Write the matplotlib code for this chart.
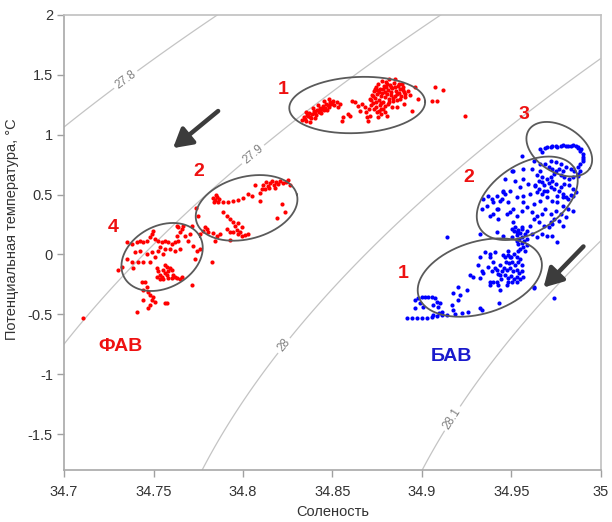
#!/usr/bin/env python
"""
T-S diagram: FAW (red) and BAW (blue) clusters over sigma-theta isopycnals
"""
import numpy as np
import matplotlib
matplotlib.use('Agg')
import matplotlib.pyplot as plt
from matplotlib.ticker import FuncFormatter

plt.rcParams['font.family'] = ['Liberation Sans', 'DejaVu Sans']

# --- data (salinity, potential temperature) ---
fav_cluster_1 = [
    (34.8330, 1.122), (34.8341, 1.147), (34.8352, 1.114), (34.8363, 1.156), (34.8369, 1.181),
    (34.8380, 1.139), (34.8386, 1.173), (34.8397, 1.198), (34.8408, 1.164), (34.8414, 1.206),
    (34.8425, 1.189), (34.8430, 1.223), (34.8442, 1.214), (34.8447, 1.240), (34.8458, 1.223),
    (34.8464, 1.256), (34.8475, 1.248), (34.8486, 1.273), (34.8492, 1.256), (34.8503, 1.281),
    (34.8352, 1.189), (34.8391, 1.223), (34.8419, 1.248), (34.8375, 1.106), (34.8403, 1.139),
    (34.8436, 1.181), (34.8469, 1.206), (34.8453, 1.281), (34.8481, 1.298), (34.8509, 1.248),
    (34.8344, 1.131), (34.8358, 1.164), (34.8372, 1.147), (34.8400, 1.181), (34.8428, 1.198),
    (34.8450, 1.206), (34.8478, 1.231), (34.8497, 1.265),
    (34.8525, 1.273), (34.8542, 1.256), (34.8531, 1.231), (34.8559, 1.147), (34.8553, 1.114),
    (34.8587, 1.173), (34.8598, 1.156), (34.8609, 1.281), (34.8626, 1.273), (34.8643, 1.240),
    (34.8654, 1.198), (34.8665, 1.256), (34.8682, 1.231), (34.8693, 1.147), (34.8710, 1.156),
    (34.8699, 1.114),
    (34.8710, 1.298), (34.8721, 1.332), (34.8733, 1.365), (34.8744, 1.399), (34.8755, 1.424),
    (34.8766, 1.382), (34.8777, 1.348), (34.8788, 1.407), (34.8800, 1.441), (34.8811, 1.374),
    (34.8822, 1.415), (34.8833, 1.390), (34.8844, 1.432), (34.8856, 1.365), (34.8867, 1.407),
    (34.8878, 1.382), (34.8889, 1.424), (34.8900, 1.357), (34.8727, 1.265), (34.8738, 1.307),
    (34.8750, 1.340), (34.8761, 1.290), (34.8772, 1.323), (34.8783, 1.273), (34.8794, 1.315),
    (34.8805, 1.340), (34.8817, 1.298), (34.8828, 1.332), (34.8839, 1.281), (34.8850, 1.323),
    (34.8861, 1.340), (34.8716, 1.248), (34.8733, 1.214), (34.8744, 1.231), (34.8761, 1.198),
    (34.8772, 1.173), (34.8783, 1.214), (34.8794, 1.189), (34.8805, 1.156), (34.8755, 1.147),
    (34.8766, 1.248), (34.8811, 1.256), (34.8833, 1.231), (34.8861, 1.231), (34.8878, 1.298),
    (34.8906, 1.315), (34.8923, 1.365), (34.8934, 1.332), (34.8945, 1.198), (34.8962, 1.399),
    (34.8979, 1.298), (34.8900, 1.256), (34.8777, 1.449), (34.8817, 1.466), (34.8850, 1.466),
    (34.8794, 1.357), (34.8750, 1.374), (34.8828, 1.357), (34.8872, 1.348), (34.8895, 1.399),
    (34.8800, 1.399), (34.8704, 1.214), (34.8688, 1.189),
    (34.8738, 1.382), (34.8760, 1.357), (34.8783, 1.382), (34.8805, 1.424), (34.8828, 1.399),
    (34.8850, 1.399), (34.8872, 1.424), (34.8895, 1.374), (34.8772, 1.265), (34.8794, 1.240),
    (34.8816, 1.273), (34.8838, 1.307), (34.8860, 1.290), (34.8883, 1.323), (34.8906, 1.340),
    (34.8750, 1.189), (34.8772, 1.214), (34.8744, 1.273), (34.8727, 1.323), (34.8716, 1.290),
    (34.9074, 1.399), (34.9119, 1.374), (34.9057, 1.281), (34.9085, 1.281), (34.9242, 1.156),
]

fav_cluster_2 = [
    (34.7833, 0.469), (34.7844, 0.452), (34.7855, 0.477), (34.7866, 0.461), (34.7838, 0.436),
    (34.7861, 0.436), (34.7850, 0.494), (34.7889, 0.436), (34.7917, 0.436), (34.7945, 0.444),
    (34.7973, 0.452), (34.8001, 0.469), (34.8029, 0.503), (34.8051, 0.486), (34.8068, 0.578),
    (34.8096, 0.511), (34.8107, 0.544), (34.8096, 0.444), (34.8112, 0.578), (34.8129, 0.603),
    (34.8140, 0.570), (34.8152, 0.595), (34.8163, 0.611), (34.8174, 0.578), (34.8185, 0.603),
    (34.8196, 0.586), (34.8207, 0.611), (34.8146, 0.553), (34.8179, 0.553), (34.8224, 0.595),
    (34.8241, 0.603), (34.8263, 0.578), (34.8124, 0.544), (34.8252, 0.620), (34.8219, 0.419),
    (34.8235, 0.352), (34.8191, 0.302), (34.7889, 0.352), (34.7911, 0.318), (34.7928, 0.293),
    (34.7945, 0.268), (34.7956, 0.235), (34.7973, 0.260), (34.7995, 0.226), (34.7967, 0.201),
    (34.7911, 0.209), (34.7928, 0.184), (34.7945, 0.184), (34.7973, 0.168), (34.7995, 0.151),
    (34.8012, 0.159), (34.8029, 0.168), (34.7984, 0.184), (34.7872, 0.168), (34.7855, 0.151),
    (34.7833, 0.176), (34.7805, 0.184), (34.7777, 0.193), (34.7844, 0.109), (34.7928, 0.117),
    (34.7738, 0.385), (34.7749, 0.318), (34.7788, 0.226), (34.7760, 0.168), (34.7799, 0.209),
]

fav_cluster_4 = [
    (34.7352, 0.101), (34.7380, 0.084), (34.7408, 0.101), (34.7425, 0.109), (34.7442, 0.101),
    (34.7464, 0.109), (34.7481, 0.142), (34.7492, 0.168), (34.7498, 0.193), (34.7509, 0.126),
    (34.7525, 0.109), (34.7548, 0.101), (34.7565, 0.109), (34.7581, 0.101), (34.7604, 0.084),
    (34.7620, 0.101), (34.7637, 0.109), (34.7632, 0.151), (34.7648, 0.184), (34.7660, 0.209),
    (34.7637, 0.226), (34.7676, 0.151), (34.7693, 0.109), (34.7704, 0.168), (34.7721, 0.067),
    (34.7743, 0.025), (34.7760, 0.042), (34.7632, 0.235), (34.7665, 0.235), (34.7716, 0.235),
    (34.7593, 0.042), (34.7620, 0.025), (34.7648, 0.042), (34.7537, 0.059), (34.7565, 0.042),
    (34.7397, 0.017), (34.7425, 0.025), (34.7464, 0.000), (34.7492, 0.017), (34.7509, -0.017),
    (34.7525, 0.025), (34.7553, 0.000), (34.7442, -0.059), (34.7414, -0.067), (34.7380, -0.059),
    (34.7352, -0.042), (34.7324, -0.101), (34.7302, -0.126), (34.7386, -0.109), (34.7481, -0.067),
    (34.7520, -0.109), (34.7525, -0.142), (34.7537, -0.168), (34.7548, -0.184), (34.7553, -0.126),
    (34.7565, -0.151), (34.7576, -0.168), (34.7581, -0.142), (34.7593, -0.109), (34.7604, -0.126),
    (34.7609, -0.168), (34.7620, -0.184), (34.7632, -0.193), (34.7648, -0.209), (34.7660, -0.184),
    (34.7576, -0.101), (34.7565, -0.084), (34.7520, -0.184), (34.7537, -0.209), (34.7553, -0.209),
    (34.7581, -0.193), (34.7604, -0.193), (34.7732, -0.042), (34.7827, -0.059), (34.7716, -0.251),
    (34.7436, -0.226), (34.7453, -0.234), (34.7464, -0.268), (34.7442, -0.293), (34.7470, -0.310),
    (34.7481, -0.335), (34.7498, -0.352), (34.7492, -0.377), (34.7509, -0.394), (34.7481, -0.419),
    (34.7442, -0.377), (34.7576, -0.402), (34.7408, -0.477), (34.7470, -0.444), (34.7106, -0.528),
    (34.7565, -0.402),
]

bav_upper = [
    (34.9662, 0.879), (34.9690, 0.888), (34.9718, 0.896), (34.9746, 0.905), (34.9774, 0.905),
    (34.9802, 0.905), (34.9830, 0.905), (34.9858, 0.905), (34.9874, 0.896), (34.9885, 0.863),
    (34.9897, 0.838), (34.9902, 0.812), (34.9902, 0.779), (34.9885, 0.754), (34.9874, 0.729),
    (34.9885, 0.695), (34.9874, 0.670), (34.9869, 0.653), (34.9673, 0.854), (34.9701, 0.896),
    (34.9729, 0.905), (34.9757, 0.896), (34.9785, 0.913), (34.9813, 0.905), (34.9841, 0.913),
    (34.9869, 0.888), (34.9891, 0.879), (34.9897, 0.796),
    (34.9841, 0.645), (34.9819, 0.628), (34.9796, 0.645), (34.9774, 0.662), (34.9751, 0.695),
    (34.9729, 0.712), (34.9707, 0.729), (34.9690, 0.754), (34.9718, 0.779), (34.9746, 0.771),
    (34.9774, 0.754), (34.9802, 0.729), (34.9830, 0.712), (34.9852, 0.695), (34.9785, 0.695),
    (34.9763, 0.712), (34.9740, 0.670), (34.9718, 0.645), (34.9696, 0.628), (34.9673, 0.645),
    (34.9651, 0.611), (34.9684, 0.578), (34.9707, 0.595), (34.9729, 0.611), (34.9751, 0.586),
    (34.9774, 0.561), (34.9796, 0.586), (34.9819, 0.578), (34.9841, 0.544), (34.9858, 0.519),
    (34.9830, 0.494), (34.9807, 0.477), (34.9785, 0.503), (34.9763, 0.528), (34.9740, 0.544),
    (34.9718, 0.561), (34.9696, 0.528), (34.9673, 0.503), (34.9651, 0.544), (34.9634, 0.578),
    (34.9662, 0.695), (34.9640, 0.662),
]

bav_middle = [
    (34.9561, 0.821), (34.9623, 0.779), (34.9662, 0.754), (34.9511, 0.695), (34.9567, 0.712),
    (34.9617, 0.712), (34.9466, 0.628), (34.9522, 0.611), (34.9567, 0.628), (34.9595, 0.586),
    (34.9634, 0.570), (34.9673, 0.603), (34.9550, 0.561), (34.9494, 0.528), (34.9455, 0.519),
    (34.9421, 0.486), (34.9393, 0.461), (34.9438, 0.444), (34.9483, 0.436), (34.9533, 0.477),
    (34.9567, 0.486), (34.9606, 0.503), (34.9645, 0.519), (34.9679, 0.528), (34.9662, 0.444),
    (34.9623, 0.419), (34.9589, 0.394), (34.9561, 0.360), (34.9511, 0.377), (34.9477, 0.335),
    (34.9427, 0.377), (34.9399, 0.335), (34.9701, 0.477), (34.9729, 0.444), (34.9757, 0.486),
    (34.9785, 0.477), (34.9813, 0.461), (34.9841, 0.486), (34.9757, 0.436), (34.9785, 0.402),
    (34.9813, 0.377), (34.9841, 0.360), (34.9746, 0.360), (34.9774, 0.335), (34.9802, 0.310),
    (34.9763, 0.276), (34.9735, 0.293), (34.9718, 0.335), (34.9690, 0.377), (34.9673, 0.335),
    (34.9645, 0.318), (34.9617, 0.352), (34.9623, 0.293), (34.9651, 0.268), (34.9679, 0.235),
    (34.9707, 0.226), (34.9729, 0.251), (34.9785, 0.235), (34.9606, 0.235), (34.9589, 0.193),
    (34.9561, 0.226), (34.9533, 0.184), (34.9505, 0.209), (34.9455, 0.151), (34.9421, 0.184),
    (34.9617, 0.168), (34.9645, 0.142), (34.9673, 0.168), (34.9701, 0.151), (34.9729, 0.151),
    (34.9343, 0.461), (34.9371, 0.486), (34.9399, 0.436), (34.9365, 0.402), (34.9421, 0.377),
    (34.9449, 0.461), (34.9466, 0.503), (34.9337, 0.377), (34.9494, 0.352), (34.9533, 0.318),
    (34.9511, 0.268), (34.9505, 0.695), (34.9455, 0.528), (34.9567, 0.436), (34.9382, 0.318),
    (34.9427, 0.293),
]

bav_lower = [
    (34.9522, 0.226), (34.9539, 0.201), (34.9550, 0.176), (34.9533, 0.159), (34.9561, 0.142),
    (34.9544, 0.126), (34.9572, 0.109), (34.9556, 0.092), (34.9584, 0.075), (34.9567, 0.059),
    (34.9539, 0.084), (34.9528, 0.109), (34.9550, 0.042), (34.9578, 0.025), (34.9589, 0.126),
    (34.9505, 0.142), (34.9516, 0.193), (34.9561, 0.209), (34.9578, 0.168),
    (34.9466, -0.025), (34.9483, -0.008), (34.9500, -0.025), (34.9516, 0.000), (34.9533, -0.017),
    (34.9550, -0.042), (34.9472, -0.059), (34.9488, -0.075), (34.9505, -0.059), (34.9522, -0.084),
    (34.9539, -0.067), (34.9556, -0.092), (34.9460, -0.109), (34.9477, -0.126), (34.9494, -0.109),
    (34.9511, -0.142), (34.9528, -0.126), (34.9544, -0.151), (34.9561, -0.134), (34.9438, -0.092),
    (34.9449, -0.142), (34.9466, -0.168), (34.9483, -0.193), (34.9500, -0.176), (34.9516, -0.201),
    (34.9533, -0.184), (34.9550, -0.201), (34.9567, -0.184), (34.9427, -0.159), (34.9444, -0.209),
    (34.9421, -0.126), (34.9505, -0.234), (34.9528, -0.234), (34.9494, -0.025), (34.9539, 0.025),
    (34.9483, 0.025), (34.9455, -0.008),
    (34.9354, 0.017), (34.9382, -0.017), (34.9410, 0.017), (34.9399, -0.059), (34.9371, -0.101),
    (34.9410, -0.109), (34.9438, -0.168), (34.9399, -0.226), (34.9382, -0.251), (34.9427, -0.251),
    (34.9483, -0.234), (34.9343, -0.151), (34.9337, -0.461), (34.9623, -0.268), (34.9718, 0.268),
    (34.9757, 0.101), (34.9740, -0.360), (34.9326, -0.025), (34.9382, 0.000), (34.9315, -0.084),
    (34.9393, -0.142), (34.9270, -0.168), (34.9287, -0.184), (34.9326, -0.193), (34.9337, -0.142),
    (34.9382, -0.226), (34.9421, -0.234), (34.9477, -0.251), (34.9253, -0.293), (34.9214, -0.335),
    (34.9203, -0.377), (34.9169, -0.419), (34.9175, -0.461), (34.9141, 0.142), (34.9326, 0.168),
    (34.9438, -0.293), (34.9326, -0.444), (34.9259, -0.477), (34.9225, -0.486), (34.9186, -0.494),
    (34.9141, -0.503), (34.9113, -0.503), (34.9085, -0.511), (34.9057, -0.519), (34.9029, -0.528),
    (34.9001, -0.528), (34.8973, -0.528), (34.8945, -0.528), (34.8917, -0.528), (34.9096, -0.486),
    (34.9063, -0.503), (34.9113, -0.477),
    (34.8979, -0.360), (34.9001, -0.352), (34.9018, -0.352), (34.9035, -0.352), (34.9057, -0.352),
    (34.9074, -0.360), (34.9085, -0.394), (34.9102, -0.402), (34.9091, -0.436), (34.8962, -0.444),
    (34.8990, -0.402), (34.9007, -0.436), (34.8962, -0.377), (34.9063, -0.419),
    (34.9175, -0.318), (34.9203, -0.268), (34.9432, -0.402), (34.9628, -0.276),
]

sigma_levels = [27.8, 27.9, 28.0, 28.1]


def sigma_theta(s, t):
    """EOS-80 density at surface pressure, minus 1000"""
    rho_w = (999.842594 + 6.793952e-2 * t - 9.095290e-3 * t ** 2 + 1.001685e-4 * t ** 3
             - 1.120083e-6 * t ** 4 + 6.536332e-9 * t ** 5)
    b = 8.24493e-1 - 4.0899e-3 * t + 7.6438e-5 * t ** 2 - 8.2467e-7 * t ** 3 + 5.3875e-9 * t ** 4
    c = -5.72466e-3 + 1.0227e-4 * t - 1.6546e-6 * t ** 2
    return rho_w + b * s + c * s ** 1.5 + 4.8314e-4 * s ** 2 - 1000.0


def draw_ellipse(ax, center, a, b, angle):
    """ellipse with semi-axes given in screen pixels, centred on a data point"""
    cx, cy = ax.transData.transform(center)
    th = np.linspace(0, 2 * np.pi, 300)
    rad = np.deg2rad(angle)
    x = cx + a * np.cos(th) * np.cos(rad) - b * np.sin(th) * np.sin(rad)
    y = cy + a * np.cos(th) * np.sin(rad) + b * np.sin(th) * np.cos(rad)
    pts = ax.transData.inverted().transform(np.column_stack([x, y]))
    ax.plot(pts[:, 0], pts[:, 1], color='#5a5a5a', lw=1.3, zorder=4)


fig = plt.figure(figsize=(6.12, 5.22), dpi=100)
ax = fig.add_axes([0.1046, 0.0996, 0.8774, 0.8717])
ax.set_xlim(34.7, 35.0)
ax.set_ylim(-1.8, 2.0)

# isopycnals
sg, tg = np.meshgrid(np.linspace(34.68, 35.02, 300), np.linspace(-1.9, 2.1, 300))
cs = ax.contour(sg, tg, sigma_theta(sg, tg), levels=sigma_levels,
                colors='#c4c4c4', linewidths=0.9, zorder=1)
ax.clabel(cs, fmt='%g', fontsize=8.5, colors='#808080', inline=True, inline_spacing=3,
          manual=[(34.734, 1.47), (34.807, 0.81), (34.822, -0.75), (34.918, -1.38)])

# scatter
for group, color in [(fav_cluster_1, 'red'), (fav_cluster_2, 'red'), (fav_cluster_4, 'red'),
                     (bav_upper, '#0000ff'), (bav_middle, '#0000ff'), (bav_lower, '#0000ff')]:
    arr = np.array(group)
    ax.scatter(arr[:, 0], arr[:, 1], s=9, color=color, linewidths=0, zorder=3)

# ellipses around the water mass groups
draw_ellipse(ax, (34.8638, 1.248), 68, 28, 3)
draw_ellipse(ax, (34.8020, 0.389), 52, 31, 15)
draw_ellipse(ax, (34.7548, -0.021), 43, 31, 28)
draw_ellipse(ax, (34.9767, 0.879), 36, 23, -32)
draw_ellipse(ax, (34.9588, 0.469), 56, 34, 33)
draw_ellipse(ax, (34.9323, -0.193), 64, 36, 17)

# arrows
arrow_props = dict(arrowstyle='-|>,head_length=0.7,head_width=0.4', lw=3.2,
                   color='#3c3c3c', shrinkA=0, shrinkB=0, mutation_scale=16)
ax.annotate('', xy=(34.7609, 0.888), xytext=(34.7861, 1.198), arrowprops=arrow_props, zorder=5)
ax.annotate('', xy=(34.9679, -0.276), xytext=(34.9902, 0.067), arrowprops=arrow_props, zorder=5)

# group labels
num_style = dict(color='#ee1111', fontsize=14, fontweight='bold', ha='center', va='center')
for txt, pos in [('1', (34.8224, 1.374)), ('2', (34.7755, 0.695)), ('4', (34.7274, 0.226)),
                 ('3', (34.9567, 1.173)), ('2', (34.9264, 0.645)), ('1', (34.8895, -0.159))]:
    ax.text(pos[0], pos[1], txt, **num_style)
ax.text(34.7313, -0.771, 'ФАВ', color='#ee1111', fontsize=14, fontweight='bold',
        ha='center', va='center')
ax.text(34.9163, -0.854, 'БАВ', color='#1a1acc', fontsize=14, fontweight='bold',
        ha='center', va='center')

# axes styling
ax.set_xticks([34.7, 34.75, 34.8, 34.85, 34.9, 34.95, 35.0])
ax.set_yticks([-1.5, -1, -0.5, 0, 0.5, 1, 1.5, 2])
fmt = FuncFormatter(lambda v, _: f'{v:g}')
ax.xaxis.set_major_formatter(fmt)
ax.yaxis.set_major_formatter(fmt)
ax.tick_params(direction='out', length=5, width=1, color='#a0a0a0',
               labelsize=10.5, labelcolor='#333333')
ax.tick_params(axis='x', pad=6)
ax.tick_params(axis='y', pad=3)
for sp in ax.spines.values():
    sp.set_color('#c0c0c0')
    sp.set_linewidth(1.2)
ax.spines['left'].set_color('#a8a8a8')
ax.spines['bottom'].set_color('#a8a8a8')

ax.set_xlabel('Соленость', fontsize=10.5, color='#333333')
ax.set_ylabel('Потенциальная температура, °C', fontsize=10.5, color='#333333')
ax.xaxis.set_label_coords(0.5, -0.076)
ax.yaxis.set_label_coords(-0.084, 0.53)

fig.savefig('out.png', dpi=100)
